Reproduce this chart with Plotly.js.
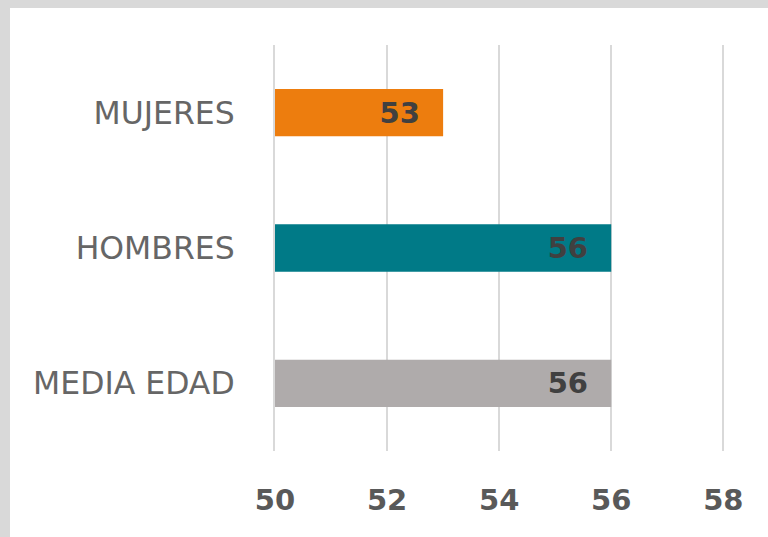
<!DOCTYPE html>
<html>
<head>
<meta charset="utf-8">
<script src="https://cdn.plot.ly/plotly-3.0.1.min.js"></script>
<style>
html,body{margin:0;padding:0;background:#d9d9d9;width:768px;height:537px;overflow:hidden;}
#chart{position:absolute;left:10px;top:8px;width:758px;height:529px;background:#fff;}
</style>
</head>
<body>
<div id="chart"></div>
<script>
const categories = ["MUJERES", "HOMBRES", "MEDIA EDAD"];
const values = [53, 56, 56];
const barColors = ["#ED7D0E", "#007A87", "#AFABAB"];
const xTicks = [50, 52, 54, 56, 58];

const trace = {
  type: "bar",
  orientation: "h",
  y: categories,
  x: values,
  marker: {color: barColors},
  width: 0.35,
  text: values.map(v => String(v) + "\u00a0\u00a0"),
  textposition: "inside",
  insidetextanchor: "end",
  textangle: 0,
  insidetextfont: {family: "DejaVu Sans", size: 29, color: "#404040", weight: 700},
  cliponaxis: true,
  hoverinfo: "none"
};

const layout = {
  width: 758,
  height: 529,
  margin: {l: 265, r: 43, t: 37, b: 86},
  paper_bgcolor: "#ffffff",
  plot_bgcolor: "#ffffff",
  showlegend: false,
  xaxis: {
    range: [50, 58.03],
    tickvals: xTicks,
    ticktext: xTicks.map(String),
    showgrid: true,
    gridcolor: "#d9d9d9",
    gridwidth: 2,
    zeroline: false,
    showline: false,
    ticks: "",
    ticklabelstandoff: 29,
    tickfont: {family: "DejaVu Sans", size: 29, color: "#595959", weight: 700},
    fixedrange: true
  },
  yaxis: {
    type: "category",
    autorange: "reversed",
    showgrid: false,
    zeroline: false,
    showline: true,
    linecolor: "#d9d9d9",
    linewidth: 2,
    layer: "below traces",
    ticks: "",
    ticklabelstandoff: 32,
    tickfont: {family: "DejaVu Sans", size: 31.5, color: "#666666", weight: 400},
    fixedrange: true
  }
};

Plotly.newPlot("chart", [trace], layout, {staticPlot: true, displayModeBar: false});
</script>
</body>
</html>
